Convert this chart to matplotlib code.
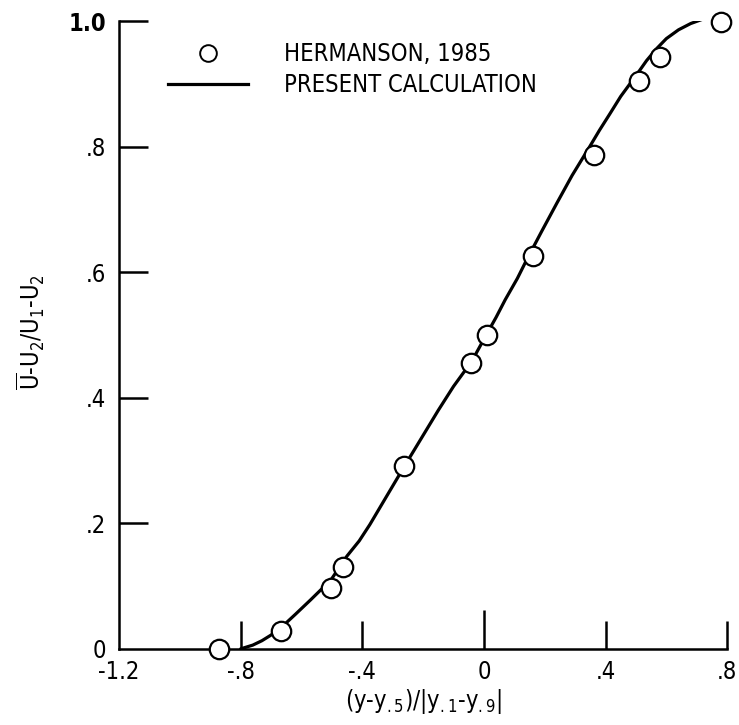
import matplotlib
matplotlib.use("Agg")
import matplotlib.pyplot as plt
from matplotlib import font_manager as fm
from matplotlib.lines import Line2D

# Hermanson (1985) measured profile
exp_x = [-0.87, -0.667, -0.503, -0.463, -0.263, -0.043, 0.01, 0.162, 0.362, 0.51, 0.579, 0.78]
exp_y = [0.0, 0.029, 0.097, 0.131, 0.292, 0.456, 0.500, 0.626, 0.787, 0.904, 0.943, 0.998]

# present calculation
calc_x = [-0.80, -0.76, -0.73, -0.70, -0.66, -0.62, -0.57, -0.53, -0.50, -0.45, -0.41,
          -0.375, -0.32, -0.26, -0.20, -0.15, -0.10, -0.04, 0.01, 0.04, 0.07, 0.11,
          0.141, 0.19, 0.24, 0.29, 0.348, 0.38, 0.414, 0.45, 0.503, 0.535, 0.568,
          0.60, 0.64, 0.68, 0.72]
calc_y = [0.0, 0.006, 0.013, 0.022, 0.037, 0.055, 0.078, 0.097, 0.112, 0.148, 0.172,
          0.198, 0.243, 0.292, 0.34, 0.38, 0.418, 0.458, 0.502, 0.528, 0.556, 0.59,
          0.62, 0.665, 0.71, 0.754, 0.80, 0.826, 0.852, 0.88, 0.915, 0.937, 0.956,
          0.972, 0.986, 0.996, 1.003]

xticks = [-1.2, -0.8, -0.4, 0.0, 0.4, 0.8]
xticklabels = ["-1.2", "-.8", "-.4", "0", ".4", ".8"]
yticks = [0.0, 0.2, 0.4, 0.6, 0.8, 1.0]
yticklabels = ["0", ".2", ".4", ".6", ".8", "1.0"]

# narrow lettering if a condensed face is around
names = {f.name for f in fm.fontManager.ttflist}
fam = "Liberation Sans Narrow" if "Liberation Sans Narrow" in names else "DejaVu Sans"
plt.rcParams["font.family"] = [fam, "DejaVu Sans"]
plt.rcParams["font.stretch"] = "condensed"
plt.rcParams["mathtext.fontset"] = "custom"
plt.rcParams["mathtext.rm"] = fam + ":stretch=condensed"
plt.rcParams["mathtext.it"] = fam + ":stretch=condensed"

fig = plt.figure(figsize=(7.39, 7.25), dpi=100)
ax = fig.add_axes([0.161, 0.105, 0.823, 0.866])

ax.plot(calc_x, calc_y, color="black", lw=2.3, solid_capstyle="round",
        solid_joinstyle="round", zorder=2)
ax.plot(exp_x, exp_y, "o", ms=14, mfc="white", mec="black", mew=1.6,
        linestyle="none", zorder=3, clip_on=False)

ax.set_xlim(-1.2, 0.8)
ax.set_ylim(0.0, 1.0)
for side in ("top", "right"):
    ax.spines[side].set_visible(False)
for side in ("left", "bottom"):
    ax.spines[side].set_linewidth(1.8)

ax.set_xticks(xticks)
ax.set_xticklabels(xticklabels, fontsize=17)
ax.set_yticks(yticks)
ax.set_yticklabels(yticklabels, fontsize=17)
ax.tick_params(axis="both", direction="in", width=1.8, pad=8)
ax.tick_params(axis="x", length=20)
ax.tick_params(axis="y", length=21, pad=9)
# no tick at the origin of the x axis, and a taller one at zero
ax.xaxis.get_major_ticks()[0].tick1line.set_visible(False)
ax.xaxis.get_major_ticks()[3].tick1line.set_markersize(28)
ax.yaxis.get_major_ticks()[0].tick1line.set_visible(False)
ax.get_yticklabels()[-1].set_fontweight("bold")

ax.set_xlabel(r"(y-y$_{.5}$)/|y$_{.1}$-y$_{.9}$|", fontsize=17, labelpad=2)
ax.set_ylabel(r"$\overline{\mathrm{U}}$-U$_2$/U$_1$-U$_2$", fontsize=17)
ax.yaxis.set_label_coords(-0.118, 0.505)

handles = [
    Line2D([], [], marker="o", ms=12, mfc="white", mec="black", mew=1.4, linestyle="none"),
    Line2D([], [], color="black", lw=2.3),
]
ax.legend(handles, ["HERMANSON, 1985", "PRESENT CALCULATION"], loc="upper left",
          bbox_to_anchor=(0.045, 1.0), frameon=False, fontsize=17,
          handlelength=3.4, handletextpad=1.55, labelspacing=0.3)

fig.savefig("out.png", dpi=100)
